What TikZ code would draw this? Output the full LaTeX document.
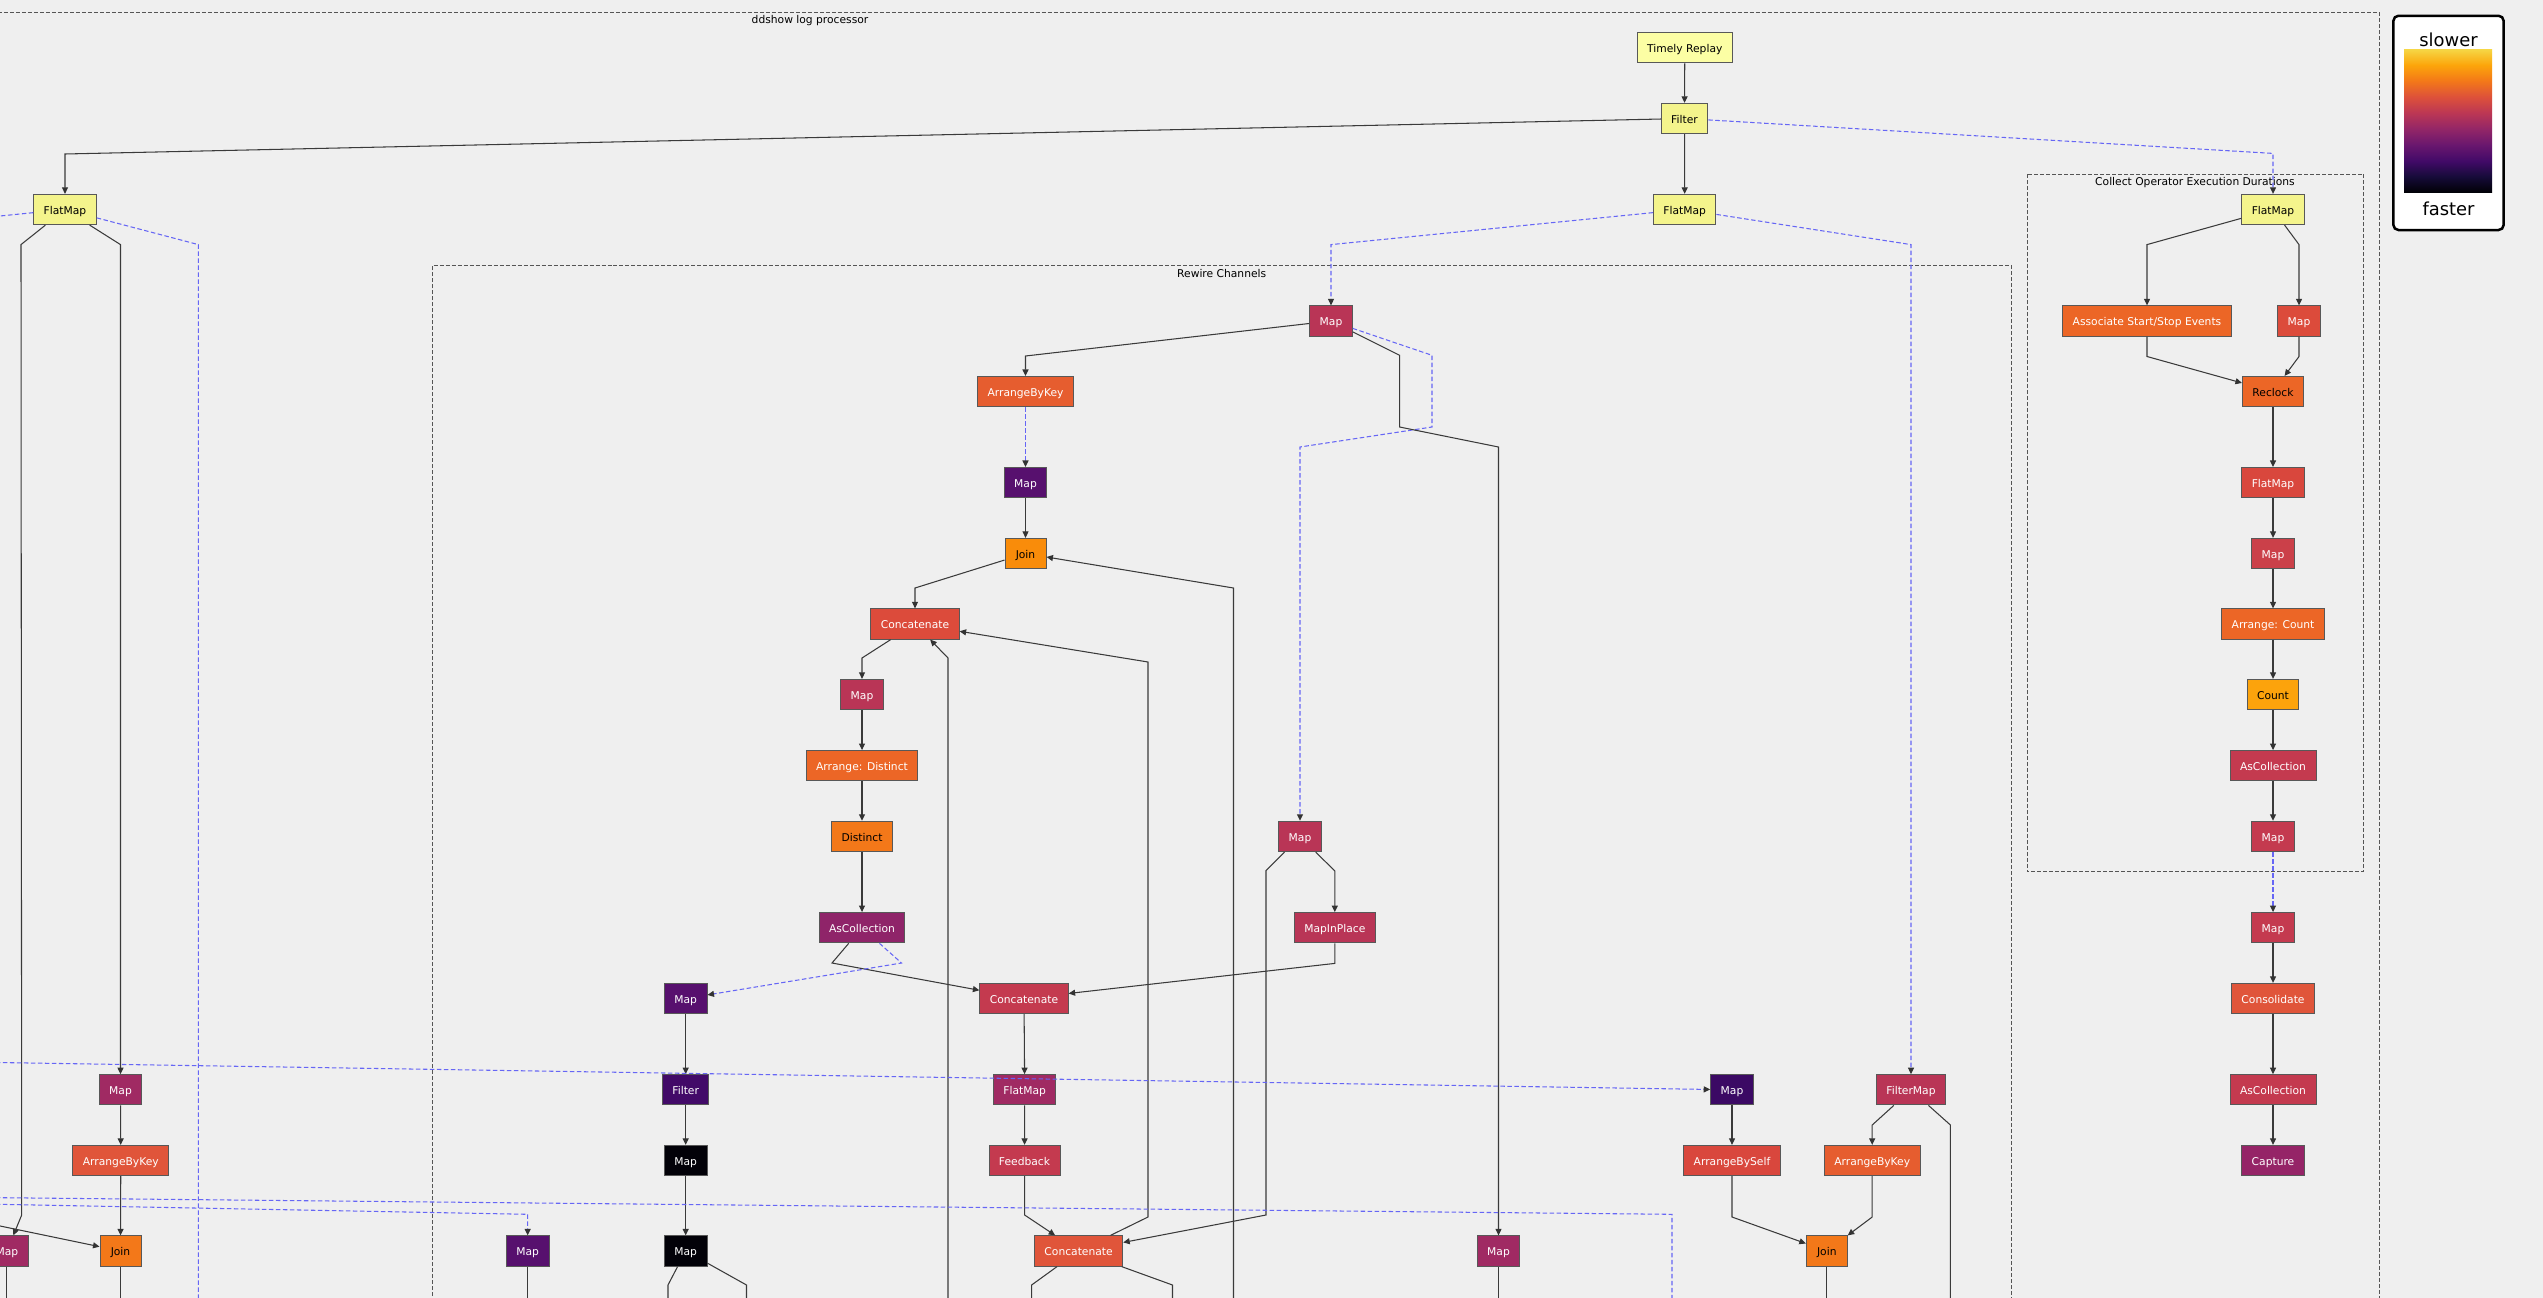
\documentclass[tikz,border=0pt]{standalone}
\usepackage{fontspec}
\setmainfont{DejaVu Sans}
\usepackage{xcolor}
\usepackage{tikz}
\usetikzlibrary{arrows.meta,calc}
\usetikzlibrary{positioning}

\definecolor{bggray}{HTML}{EFEFEF}
\definecolor{tipgray}{HTML}{333333}
\definecolor{edgegray}{HTML}{3A3A3A}
\definecolor{nodeborder}{HTML}{585858}
\definecolor{clustergray}{HTML}{555555}
\definecolor{linkblue}{HTML}{6666F5}
\definecolor{replayyellow}{HTML}{FCFEA4}
\definecolor{sourceyellow}{HTML}{F4F48C}
\definecolor{heatA}{HTML}{020108}
\definecolor{heatB}{HTML}{3B0964}
\definecolor{heatC}{HTML}{420A68}
\definecolor{heatD}{HTML}{57106E}
\definecolor{heatE}{HTML}{8F2469}
\definecolor{heatF}{HTML}{952467}
\definecolor{heatG}{HTML}{A02A63}
\definecolor{heatH}{HTML}{B93556}
\definecolor{heatI}{HTML}{C43A4F}
\definecolor{heatJ}{HTML}{CB4049}
\definecolor{heatK}{HTML}{D9473D}
\definecolor{heatL}{HTML}{DC4B3B}
\definecolor{heatM}{HTML}{E0553A}
\definecolor{heatN}{HTML}{E65D2F}
\definecolor{heatO}{HTML}{EC6626}
\definecolor{heatP}{HTML}{F37819}
\definecolor{heatQ}{HTML}{F98C0A}
\definecolor{heatR}{HTML}{FCA30C}
% inferno scale for the legend
\definecolor{inf0}{HTML}{000004}
\definecolor{inf1}{HTML}{160B39}
\definecolor{inf2}{HTML}{420A68}
\definecolor{inf3}{HTML}{6A176E}
\definecolor{inf4}{HTML}{932667}
\definecolor{inf5}{HTML}{BC3754}
\definecolor{inf6}{HTML}{DD513A}
\definecolor{inf7}{HTML}{F37819}
\definecolor{inf8}{HTML}{FCA50A}
\definecolor{inf9}{HTML}{F6D746}
\pgfdeclareverticalshading{infernobar}{100bp}{color(0bp)=(inf0); color(25bp)=(inf0); color(30.6bp)=(inf1); color(36.1bp)=(inf2); color(41.7bp)=(inf3); color(47.2bp)=(inf4); color(52.8bp)=(inf5); color(58.3bp)=(inf6); color(63.9bp)=(inf7); color(69.4bp)=(inf8); color(75bp)=(inf9); color(100bp)=(inf9)}

\tikzset{
  op/.style={draw=nodeborder, line width=0.55pt, rectangle, minimum height=0.606cm, minimum width=0.82cm, inner xsep=0.2cm, inner ysep=0pt, text height=5.9pt, text depth=0.4pt, text=white, font=\fontsize{6.1}{7}\selectfont},
  lightop/.style={op, text=black},
  link/.style={draw=edgegray, line width=0.6pt},
  dep/.style={draw=linkblue, line width=0.6pt, dash pattern=on 0.09cm off 0.05cm},
  cluster/.style={draw=clustergray, line width=0.5pt, dash pattern=on 0.08cm off 0.04cm},
  clusterlabel/.style={anchor=base, inner sep=0pt, font=\fontsize{6.1}{7}\selectfont},
  legendlabel/.style={anchor=base, inner sep=0pt, font=\fontsize{10.2}{12}\selectfont}
}

\begin{document}
\begin{tikzpicture}[x=0.02cm,y=-0.02cm,>={Triangle[length=0.13cm,width=0.12cm,color=tipgray]}]
\useasboundingbox (0,0) rectangle (2543,1298);
\fill[bggray] (0,0) rectangle (2543,1298);
\clip (0,0) rectangle (2543,1298);

% clusters
\draw[cluster] (-20,12.4) -- (2379.7,12.4) -- (2379.7,1320);
\node[clusterlabel] (mainLbl) at (810,24) {ddshow log processor};
\draw[cluster] (432.5,1320) -- (432.5,265.3) -- (2011,265.3) -- (2011,1320);
\node[clusterlabel] (rewireLbl) at (1221.7,277.8) {Rewire Channels};
\draw[cluster] (2027.3,174) rectangle (2363.5,871.8);
\node[clusterlabel] (collectLbl) at (2195,185.3) {Collect Operator Execution Durations};

% legend
\draw[line width=0.05cm, fill=white, rounded corners=0.1cm] (2393.4,15.8) rectangle (2503.6,230);
\shade[shading=infernobar] (2404,49) rectangle (2492,192.8);
\node[legendlabel] (slowLbl) at (2448.5,46.4) {slower};
\node[legendlabel] (fastLbl) at (2448.5,215.6) {faster};

% operators
\node[lightop, fill=replayyellow] (replay) at (1684.8,47.7) {Timely Replay};
\node[lightop, fill=sourceyellow] (filter) at (1684.5,118.5) {Filter};
\node[lightop, fill=sourceyellow] (fmLeft) at (65,209.5) {FlatMap};
\node[lightop, fill=sourceyellow] (fmMid) at (1684.7,209.5) {FlatMap};
\node[lightop, fill=sourceyellow] (fmCol) at (2273,209.5) {FlatMap};
\node[op, fill=heatH] (mapRw) at (1331,321) {Map};
\node[op, fill=heatO] (assoc) at (2147,321) {Associate Start/Stop Events};
\node[op, fill=heatL] (mapCol) at (2299,321) {Map};
\node[op, fill=heatN] (abkRw) at (1025.5,391.6) {ArrangeByKey};
\node[lightop, fill=heatO] (reclock) at (2273,391.6) {Reclock};
\node[op, fill=heatD] (mapPurp) at (1025.5,482.6) {Map};
\node[op, fill=heatK] (fmCol2) at (2273,482.6) {FlatMap};
\node[lightop, fill=heatQ] (joinRw) at (1025.5,553.5) {Join};
\node[op, fill=heatJ] (mapCol2) at (2273,553.5) {Map};
\node[op, fill=heatL] (concA) at (915,624) {Concatenate};
\node[op, fill=heatO] (arrCount) at (2273,624) {Arrange: Count};
\node[op, fill=heatH] (mapA) at (862,694.5) {Map};
\node[lightop, fill=heatR] (count) at (2273,694.5) {Count};
\node[op, fill=heatO] (arrDist) at (862,765.7) {Arrange: Distinct};
\node[op, fill=heatI] (ascCol) at (2273,765.7) {AsCollection};
\node[lightop, fill=heatP] (distinct) at (862,836.4) {Distinct};
\node[op, fill=heatH] (mapB) at (1300,836.4) {Map};
\node[op, fill=heatI] (mapCol3) at (2273,836.4) {Map};
\node[op, fill=heatE] (ascA) at (862,927.7) {AsCollection};
\node[op, fill=heatH] (mapInPlace) at (1334.8,927.7) {MapInPlace};
\node[op, fill=heatI] (mapOut) at (2273,927.7) {Map};
\node[op, fill=heatD] (mapC) at (685.7,998.5) {Map};
\node[op, fill=heatI] (concB) at (1024,998.5) {Concatenate};
\node[op, fill=heatM] (consol) at (2273,998.5) {Consolidate};
\node[op, fill=heatG] (mapL) at (120.5,1089.8) {Map};
\node[op, fill=heatC] (filterB) at (685.7,1089.8) {Filter};
\node[op, fill=heatG] (fmB) at (1024.7,1089.8) {FlatMap};
\node[op, fill=heatB] (mapD) at (1732,1089.8) {Map};
\node[op, fill=heatH] (filterMap) at (1911,1089.8) {FilterMap};
\node[op, fill=heatI] (ascOut) at (2273,1089.8) {AsCollection};
\node[op, fill=heatM] (abkL) at (120.8,1160.5) {ArrangeByKey};
\node[op, fill=heatA] (mapE) at (685.7,1160.5) {Map};
\node[op, fill=heatI] (feedback) at (1024.5,1160.5) {Feedback};
\node[op, fill=heatK] (abSelf) at (1732,1160.5) {ArrangeBySelf};
\node[op, fill=heatN] (abkR) at (1872.2,1160.5) {ArrangeByKey};
\node[op, fill=heatF] (capture) at (2273,1160.5) {Capture};
\node[op, fill=heatG] (mapEdge) at (6.9,1251) {Map};
\node[lightop, fill=heatP] (joinL) at (120.5,1251) {Join};
\node[op, fill=heatD] (mapF) at (527.7,1251) {Map};
\node[op, fill=heatA] (mapG) at (685.7,1251) {Map};
\node[op, fill=heatM] (concC) at (1078.6,1251) {Concatenate};
\node[op, fill=heatG] (mapH) at (1498.5,1251) {Map};
\node[lightop, fill=heatP] (joinR) at (1826.8,1251) {Join};

% ends outside the picture
\coordinate (offL1) at (-60,222);
\coordinate (offL2) at (-60,1213.5);
\coordinate (offL3) at (-60,1061.6);
\coordinate (offL4) at (-60,1197.1);
\coordinate (offL5) at (-60,1203.2);
\coordinate (offB1) at (198.4,1320);
\coordinate (offB3) at (1233.5,1320);
\coordinate (offB4) at (948,1320);
\coordinate (offB5) at (668,1320);
\coordinate (offB6) at (746.5,1320);
\coordinate (offB7) at (1031.6,1320);
\coordinate (offB8) at (1172.5,1320);
\coordinate (offB9) at (1672,1320);
\coordinate (offB10) at (1950.4,1320);
\coordinate (offB11) at (1826.8,1320);
\coordinate (offB12) at (6.9,1320);
\coordinate (offB13) at (120.5,1320);
\coordinate (offB14) at (527.7,1320);
\coordinate (offB15) at (1498.5,1320);

% top part
\draw[link,->] (replay) -- (filter);
\draw[link,->] (filter) -- (65,154) -- (fmLeft);
\draw[link,->] (filter) -- (fmMid);
\draw[dep,->] (filter) -- (2273,153.4) -- (fmCol);
\draw[dep,->] (fmLeft) -- (offL1);
\draw[link,->] (fmLeft) -- (21,244.6) -- (21.7,1215) -- (mapEdge);
\draw[link,->] (fmLeft) -- (120.5,244.6) -- (mapL);
\draw[dep] (fmLeft) -- (198.4,244.6) -- (offB1);
\draw[dep,->] (fmMid) -- (1331,244.6) -- (mapRw);
\draw[dep,->] (fmMid) -- (1911,244.6) -- (filterMap);

% rewire channels
\draw[link,->] (mapRw) -- (1025.5,356) -- (abkRw);
\draw[dep,->] (mapRw) -- (1432,355.3) -- (1432,427) -- (1300,447) -- (mapB);
\draw[link,->] (mapRw) -- (1399.6,355.3) -- (1399.6,427) -- (1498.5,447) -- (mapH);
\draw[dep,->] (abkRw) -- (mapPurp);
\draw[link,->] (mapPurp) -- (joinRw);
\draw[link,->] (joinRw) -- (915,588) -- (concA);
\draw[link,->] (offB3) -- (1233.5,588) -- (joinRw);
\draw[link,->] (concC) -- (1148,1217) -- (1148,662) -- (concA);
\draw[link,->] (concA) -- (862,658) -- (mapA);
\draw[link,->] (offB4) -- (948,658) -- (concA);
\draw[link,->] (mapA) -- (arrDist);
\draw[link,->] (arrDist) -- (distinct);
\draw[link,->] (distinct) -- (ascA);
\draw[link,->] (ascA) -- (832,963) -- (concB);
\draw[dep,->] (ascA) -- (901.5,963) -- (mapC);
\draw[link,->] (mapB) -- (1334.8,871) -- (mapInPlace);
\draw[link,->] (mapInPlace) -- (1334.8,963.4) -- (concB);
\draw[link,->] (mapB) -- (1266,870.7) -- (1266,1215) -- (concC);
\draw[link,->] (mapC) -- (filterB);
\draw[link,->] (filterB) -- (mapE);
\draw[link,->] (mapE) -- (mapG);
\draw[link,->] (concB) -- (fmB);
\draw[link,->] (fmB) -- (feedback);
\draw[link,->] (feedback) -- (1024.6,1215) -- (concC);
\draw[link] (mapG) -- (668,1285) -- (offB5);
\draw[link] (mapG) -- (746.5,1285) -- (offB6);
\draw[link] (concC) -- (1031.6,1285) -- (offB7);
\draw[link] (concC) -- (1172.5,1285) -- (offB8);
\draw[link] (mapH) -- (offB15);

% left column
\draw[link,->] (mapL) -- (abkL);
\draw[link,->] (abkL) -- (joinL);
\draw[link,->] (offL2) -- (joinL);
\draw[link] (mapEdge) -- (offB12);
\draw[link] (joinL) -- (offB13);
\draw[link] (mapF) -- (offB14);

% long channels
\draw[dep,->] (offL3) -- (mapD);
\draw[dep] (offL4) -- (1672,1214.3) -- (offB9);
\draw[dep,->] (offL5) -- (527.7,1214.3) -- (mapF);

% right of rewire channels
\draw[link,->] (mapD) -- (abSelf);
\draw[link,->] (abSelf) -- (1732,1217) -- (joinR);
\draw[link,->] (filterMap) -- (1872.2,1125) -- (abkR);
\draw[link,->] (abkR) -- (1872.2,1217) -- (joinR);
\draw[link] (filterMap) -- (1950.4,1125) -- (offB10);
\draw[link] (joinR) -- (offB11);

% collect operator execution durations
\draw[link,->] (fmCol) -- (2147,244.6) -- (assoc);
\draw[link,->] (fmCol) -- (2299,244.6) -- (mapCol);
\draw[link,->] (assoc) -- (2147,356.5) -- (reclock);
\draw[link,->] (mapCol) -- (2299,356.5) -- (reclock);
\draw[link,->] (reclock) -- (fmCol2);
\draw[link,->] (fmCol2) -- (mapCol2);
\draw[link,->] (mapCol2) -- (arrCount);
\draw[link,->] (arrCount) -- (count);
\draw[link,->] (count) -- (ascCol);
\draw[link,->] (ascCol) -- (mapCol3);
\draw[dep,->] (mapCol3) -- (mapOut);
\draw[link,->] (mapOut) -- (consol);
\draw[link,->] (consol) -- (ascOut);
\draw[link,->] (ascOut) -- (capture);
\end{tikzpicture}
\end{document}
